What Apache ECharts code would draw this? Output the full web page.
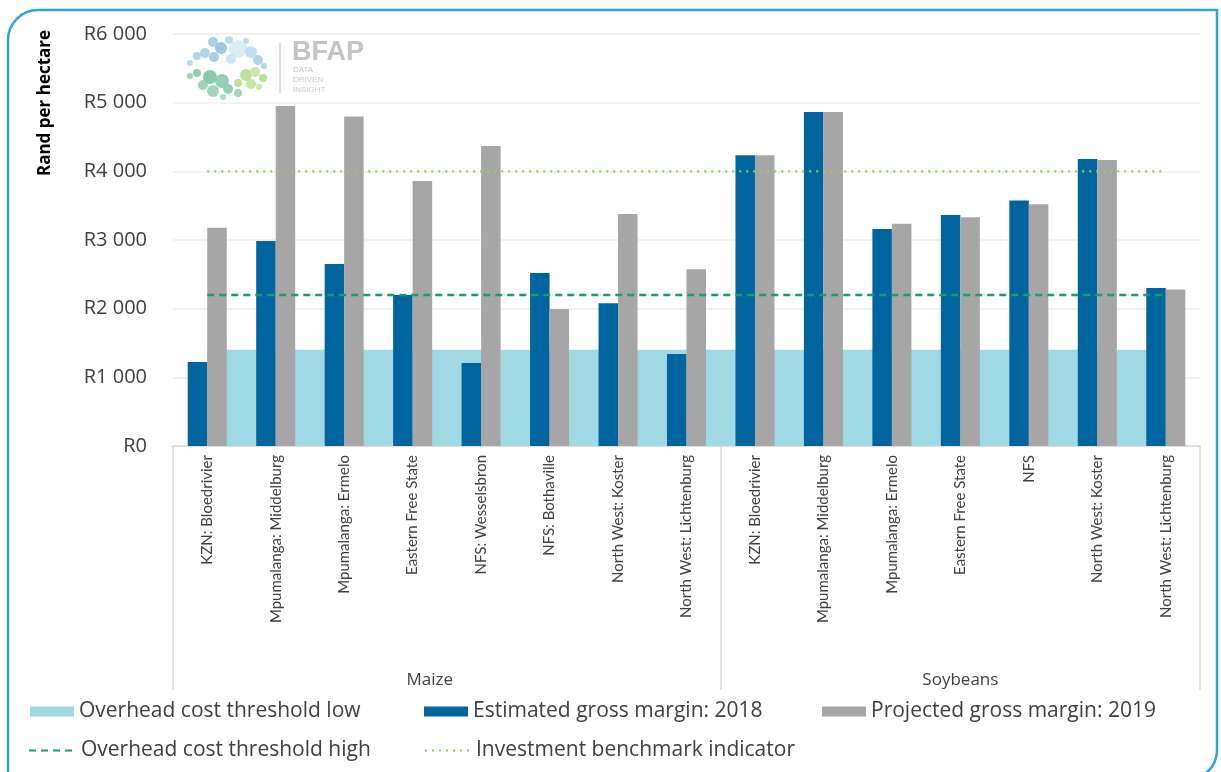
<!DOCTYPE html>
<html>
<head>
<meta charset="utf-8">
<script src="https://cdn.jsdelivr.net/npm/echarts@6/dist/echarts.min.js"></script>
<style>
html,body{margin:0;padding:0;background:#fff;}
#chart{width:1221px;height:772px;}
</style>
</head>
<body>
<div id="chart"></div>
<script>
// ---- Data ----
const categories = [
  'KZN: Bloedrivier','Mpumalanga: Middelburg','Mpumalanga: Ermelo','Eastern Free State',
  'NFS: Wesselsbron','NFS: Bothaville','North West: Koster','North West: Lichtenburg',
  'KZN: Bloedrivier','Mpumalanga: Middelburg','Mpumalanga: Ermelo','Eastern Free State',
  'NFS','North West: Koster','North West: Lichtenburg'
];
const groupNames = ['Maize','Soybeans'];
const groupBounds = [0, 8, 15];      // category index boundaries of the groups
const groupLabelAt = [3.75, 11.5];
const margin2018 = [1225,2985,2650,2200,1210,2520,2080,1340, 4235,4865,3160,3365,3575,4180,2300];
const margin2019 = [3180,4950,4800,3860,4370,1995,3380,2575, 4235,4865,3235,3330,3520,4165,2280];
const overheadLow  = [1400,1400,1400,1400,1400,1400,1400,1400,1400,1400,1400,1400,1400,1400,1400];
const overheadHigh = [2200,2200,2200,2200,2200,2200,2200,2200,2200,2200,2200,2200,2200,2200,2200];
const benchmark    = [4000,4000,4000,4000,4000,4000,4000,4000,4000,4000,4000,4000,4000,4000,4000];
const yTicks = [0,1000,2000,3000,4000,5000,6000];

const seriesNames = {
  low:'Overhead cost threshold low',
  m18:'Estimated gross margin: 2018',
  m19:'Projected gross margin: 2019',
  high:'Overhead cost threshold high',
  bench:'Investment benchmark indicator'
};
const C = {low:'#a0d9e3', m18:'#00659f', m19:'#a6a6a6', high:'#1a9d6c', bench:'#92d050', text:'#404040'};
const FONT = 'Lato';
const FONT2 = '"Open Sans"';

function randFmt(v){
  if (v === 0) return 'R0';
  const s = String(v);
  return 'R' + s.slice(0, s.length-3) + ' ' + s.slice(-3);
}

// decorative logo dots
const logoDots = [
  [213,42,5,'#9fcde3'],[229,40,4,'#b5dbea'],[221,48,6,'#8fc4df'],[238,49,9,'#d3ecf4'],
  [205,53,5,'#a5d1e6'],[214,57,5,'#9cc9e1'],[251,52,6,'#b9dcec'],[258,60,5,'#a7d2e6'],
  [197,56,4,'#a8d3e7'],[190,63,3,'#b3d8ea'],[231,59,5,'#c3e3ef'],[264,66,3,'#a9d3e6'],
  [246,41,3,'#b0d8ea'],
  [197,73,4,'#86c8a6'],[210,77,7,'#7fc2a4'],[222,81,7,'#8bcaae'],[203,85,5,'#95cfb3'],
  [213,91,6,'#9ad2b8'],[228,89,5,'#8ccbb0'],[238,93,4,'#9bd3b9'],[223,97,3,'#a4d6bf'],
  [190,76,3,'#90ccae'],[246,75,6,'#b9e08f'],[255,72,5,'#c6e59e'],[263,78,4,'#b3dd88'],
  [251,84,5,'#c0e396'],[238,83,4,'#b5de8c'],[259,87,3,'#c4e49c']
];

const graphics = [
  {type:'rect', shape:{x:8,y:10,width:1209,height:770,r:[30,0,30,0]},
   style:{fill:'none', stroke:'#2fa4d8', lineWidth:2.5}, silent:true, z:-10},
  {type:'text', x:45, y:103, rotation:Math.PI/2,
   style:{text:'Rand per hectare', font:'bold 17px ' + FONT2, fill:'#000', textAlign:'center', textVerticalAlign:'middle'}},
  {type:'line', shape:{x1:280,y1:43,x2:280,y2:93}, style:{stroke:'#d6d6d6', lineWidth:1.5}, silent:true},
  {type:'text', x:292, y:53, style:{text:'BFAP', font:'bold 27px "Liberation Sans"', fill:'#c4c4c4', textVerticalAlign:'middle'}},
  {type:'text', x:293, y:70, style:{text:'DATA', font:'8px "Liberation Sans"', fill:'#c8c8c8', textVerticalAlign:'middle'}},
  {type:'text', x:293, y:80, style:{text:'DRIVEN', font:'8px "Liberation Sans"', fill:'#c8c8c8', textVerticalAlign:'middle'}},
  {type:'text', x:293, y:90, style:{text:'INSIGHT', font:'8px "Liberation Sans"', fill:'#c8c8c8', textVerticalAlign:'middle'}}
];
logoDots.forEach(d => graphics.push({type:'circle', shape:{cx:d[0],cy:d[1],r:d[2]}, style:{fill:d[3], opacity:0.9}, silent:true}));

const legendText = {fontSize:21, color:C.text, fontFamily:FONT2};
function legendItem(left, top, item, w){
  return {left:left, top:top, padding:0, itemWidth:w || 44, itemHeight:10, itemGap:10, textStyle:legendText, data:[item]};
}

const chart = echarts.init(document.getElementById('chart'), null, {renderer:'canvas'});
chart.setOption({
  animation:false,
  backgroundColor:'#fff',
  textStyle:{fontFamily:FONT},
  graphic:graphics,
  grid:{left:173, right:21, top:34, bottom:326, containLabel:false},
  legend:[
    legendItem(30, 701, {name:seriesNames.low, icon:'rect', itemStyle:{color:C.low}}),
    legendItem(424, 701, {name:seriesNames.m18, icon:'rect'}),
    legendItem(822, 701, {name:seriesNames.m19, icon:'rect'}),
    legendItem(28, 740, {name:seriesNames.high, itemStyle:{opacity:0}}, 47),
    legendItem(424, 740, {name:seriesNames.bench, itemStyle:{opacity:0}}, 46)
  ],
  xAxis:[
    {type:'category', data:categories, gridIndex:0, position:'bottom',
     axisLine:{show:true, lineStyle:{color:'#d9d9d9', width:1.5}},
     axisTick:{show:false},
     axisLabel:{interval:0, rotate:90, fontSize:15, color:C.text, margin:9, fontFamily:FONT}},
    {type:'value', min:0, max:15, gridIndex:0, position:'bottom',
     axisLine:{show:false}, splitLine:{show:false},
     axisTick:{show:true, customValues:groupBounds, length:244, inside:false, lineStyle:{color:'#d9d9d9', width:1.5}},
     axisLabel:{show:true, customValues:groupLabelAt, margin:226, fontSize:17, color:C.text, fontFamily:FONT2,
       formatter:function(v){ return v === groupLabelAt[0] ? groupNames[0] : groupNames[1]; }}}
  ],
  yAxis:{type:'value', min:0, max:6000, interval:1000,
    axisLine:{show:false}, axisTick:{show:false},
    splitLine:{lineStyle:{color:'#eeeeee', width:1.5}},
    axisLabel:{fontSize:20, color:C.text, margin:26, fontFamily:FONT2,
      customValues:yTicks, formatter:randFmt}},
  series:[
    {name:seriesNames.low, type:'line', data:overheadLow, symbol:'none', z:1,
     lineStyle:{width:0, color:C.low}, itemStyle:{color:C.low},
     areaStyle:{color:C.low, opacity:1}},
    {name:seriesNames.m18, type:'bar', data:margin2018, barGap:'0%', barCategoryGap:'43%', z:2,
     itemStyle:{color:C.m18}},
    {name:seriesNames.m19, type:'bar', data:margin2019, barGap:'0%', barCategoryGap:'43%', z:2,
     itemStyle:{color:C.m19}},
    {name:seriesNames.high, type:'line', data:overheadHigh, symbol:'none', z:3,
     itemStyle:{color:C.high},
     lineStyle:{color:C.high, width:2.5, type:[7,5]}},
    {name:seriesNames.bench, type:'line', data:benchmark, symbol:'none', z:3,
     itemStyle:{color:C.bench},
     lineStyle:{color:C.bench, width:2.2, type:[2,5]}}
  ]
});
</script>
</body>
</html>
